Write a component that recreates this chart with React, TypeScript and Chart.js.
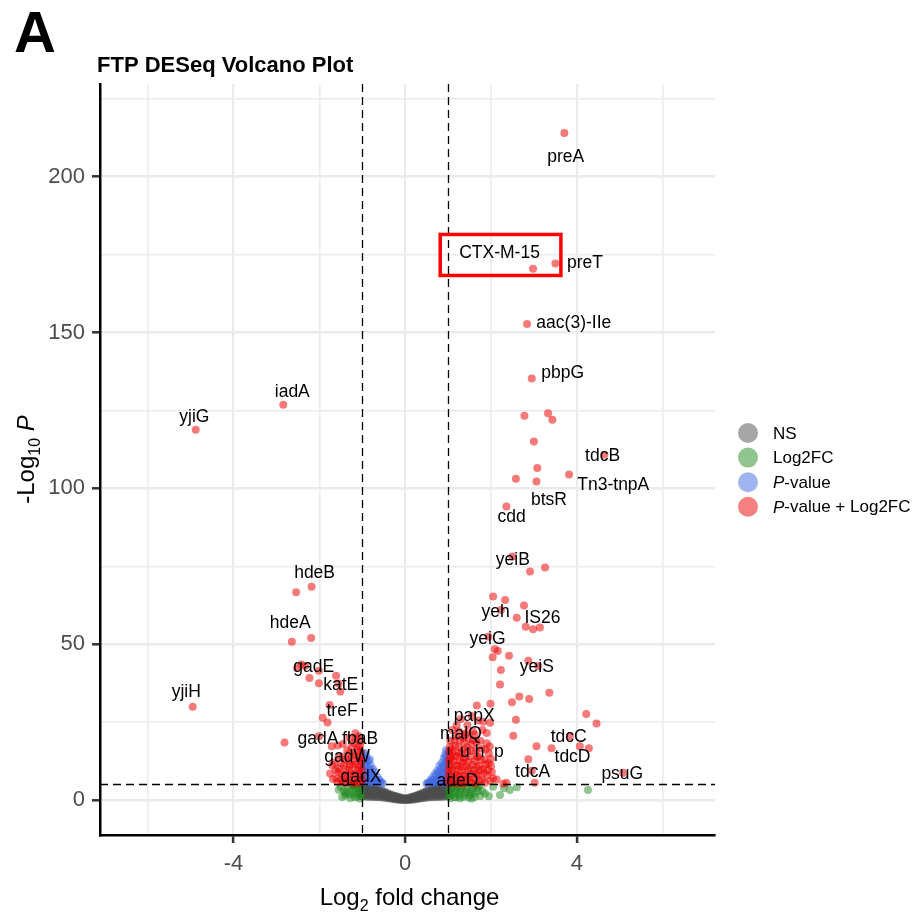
import React, { useEffect, useRef } from "react";
import { Chart, registerables } from "chart.js";

Chart.register(...registerables);

// ---------------- data ----------------
const xTickValues = [-6, -4, -2, 0, 2, 4, 6];
const xTickLabels = ["", "-4", "", "0", "", "4", ""];
const yTickValues = [0, 25, 50, 75, 100, 125, 150, 175, 200, 225];
const yTickLabels = ["0", "", "50", "", "100", "", "150", "", "200", ""];

const fcCutoffs = [-1, 1];
const pCutoff = 5;

// NS (grey)
const nsPoints: [number, number][] = [
  [-1.0, 1.2], [-1.0, 1.9], [-1.0, 2.5], [-1.0, 3.2], [-1.0, 3.8], [-1.0, 4.4], [-1.0, 4.9],
  [-0.95, 1.2], [-0.95, 1.8], [-0.95, 2.4], [-0.95, 3.0], [-0.95, 3.6], [-0.95, 4.2], [-0.95, 4.8],
  [-0.9, 1.1], [-0.9, 1.7], [-0.9, 2.4], [-0.9, 3.0], [-0.9, 3.6], [-0.9, 4.1], [-0.9, 4.7],
  [-0.85, 1.1], [-0.85, 1.7], [-0.85, 2.3], [-0.85, 2.9], [-0.85, 3.5], [-0.85, 4.0], [-0.85, 4.6],
  [-0.8, 1.1], [-0.8, 1.6], [-0.8, 2.2], [-0.8, 2.8], [-0.8, 3.4], [-0.8, 3.9], [-0.8, 4.5],
  [-0.75, 1.0], [-0.75, 1.5], [-0.75, 2.1], [-0.75, 2.6], [-0.75, 3.2], [-0.75, 3.7], [-0.75, 4.2],
  [-0.7, 1.0], [-0.7, 1.5], [-0.7, 2.0], [-0.7, 2.5], [-0.7, 3.0], [-0.7, 3.5], [-0.7, 4.0],
  [-0.65, 1.0], [-0.65, 1.6], [-0.65, 2.2], [-0.65, 2.9], [-0.65, 3.6],
  [-0.6, 0.9], [-0.6, 1.5], [-0.6, 2.1], [-0.6, 2.7], [-0.6, 3.3],
  [-0.55, 0.9], [-0.55, 1.4], [-0.55, 2.0], [-0.55, 2.5], [-0.55, 3.1],
  [-0.5, 0.8], [-0.5, 1.3], [-0.5, 1.8], [-0.5, 2.3], [-0.5, 2.8],
  [-0.45, 0.7], [-0.45, 1.2], [-0.45, 1.6], [-0.45, 2.1], [-0.45, 2.5],
  [-0.4, 0.6], [-0.4, 1.0], [-0.4, 1.3], [-0.4, 1.7], [-0.4, 2.1],
  [-0.35, 0.5], [-0.35, 0.9], [-0.35, 1.2], [-0.35, 1.6], [-0.35, 1.9],
  [-0.3, 0.4], [-0.3, 0.7], [-0.3, 1.0], [-0.3, 1.3], [-0.3, 1.6],
  [-0.25, 0.3], [-0.25, 0.6], [-0.25, 0.9], [-0.25, 1.2], [-0.25, 1.4],
  [-0.2, 0.2], [-0.2, 0.5], [-0.2, 0.8], [-0.2, 1.0], [-0.2, 1.2],
  [-0.15, 0.1], [-0.15, 0.35], [-0.15, 0.6], [-0.15, 0.8], [-0.15, 1.0],
  [-0.1, 0.0], [-0.1, 0.25], [-0.1, 0.5], [-0.1, 0.8],
  [-0.05, 0.0], [-0.05, 0.2], [-0.05, 0.4], [-0.05, 0.6],
  [0.0, 0.0], [0.0, 0.2], [0.0, 0.4], [0.0, 0.6],
  [0.05, 0.0], [0.05, 0.2], [0.05, 0.4], [0.05, 0.6],
  [0.1, 0.0], [0.1, 0.25], [0.1, 0.5], [0.1, 0.8],
  [0.15, 0.1], [0.15, 0.35], [0.15, 0.6], [0.15, 0.8], [0.15, 1.0],
  [0.2, 0.2], [0.2, 0.5], [0.2, 0.8], [0.2, 1.0], [0.2, 1.2],
  [0.25, 0.3], [0.25, 0.6], [0.25, 0.9], [0.25, 1.2], [0.25, 1.4],
  [0.3, 0.4], [0.3, 0.7], [0.3, 1.0], [0.3, 1.4], [0.3, 1.7],
  [0.35, 0.5], [0.35, 0.9], [0.35, 1.2], [0.35, 1.6], [0.35, 2.0],
  [0.4, 0.6], [0.4, 1.0], [0.4, 1.4], [0.4, 1.8], [0.4, 2.2],
  [0.45, 0.7], [0.45, 1.2], [0.45, 1.6], [0.45, 2.1], [0.45, 2.6],
  [0.5, 0.8], [0.5, 1.3], [0.5, 1.8], [0.5, 2.4], [0.5, 2.9],
  [0.55, 0.9], [0.55, 1.4], [0.55, 2.0], [0.55, 2.6], [0.55, 3.2],
  [0.6, 0.9], [0.6, 1.5], [0.6, 2.1], [0.6, 2.8], [0.6, 3.4],
  [0.65, 1.0], [0.65, 1.6], [0.65, 2.2], [0.65, 3.0], [0.65, 3.7],
  [0.7, 1.0], [0.7, 1.5], [0.7, 2.0], [0.7, 2.5], [0.7, 3.0], [0.7, 3.6], [0.7, 4.1],
  [0.75, 1.0], [0.75, 1.5], [0.75, 2.1], [0.75, 2.6], [0.75, 3.2], [0.75, 3.8], [0.75, 4.3],
  [0.8, 1.1], [0.8, 1.6], [0.8, 2.2], [0.8, 2.8], [0.8, 3.4], [0.8, 3.9], [0.8, 4.5],
  [0.85, 1.1], [0.85, 1.7], [0.85, 2.3], [0.85, 2.9], [0.85, 3.5], [0.85, 4.0], [0.85, 4.6],
  [0.9, 1.1], [0.9, 1.7], [0.9, 2.4], [0.9, 3.0], [0.9, 3.6], [0.9, 4.1], [0.9, 4.7],
  [0.95, 1.2], [0.95, 1.8], [0.95, 2.4], [0.95, 3.0], [0.95, 3.6], [0.95, 4.2], [0.95, 4.8],
  [1.0, 1.2], [1.0, 1.9], [1.0, 2.5], [1.0, 3.2], [1.0, 3.8], [1.0, 4.4], [1.0, 4.9],
];

// Log2FC only (green)
const log2fcPoints: [number, number][] = [
  [1.02, 1.2], [1.02, 3.0], [1.03, 4.6], [1.1, 2.0], [1.1, 4.0], [1.15, 1.0],
  [1.2, 3.0], [1.2, 4.7], [1.25, 1.5], [1.3, 3.5], [1.35, 1.0], [1.4, 2.5],
  [1.45, 4.2], [1.5, 1.5], [1.55, 3.2], [1.6, 2.2], [1.65, 4.6], [1.7, 3.8],
  [1.75, 1.3], [1.86, 2.1], [2.05, 4.3], [2.21, 1.6], [2.44, 3.2], [2.6, 4.1],
  [4.26, 3.2],
  [1.05, 0.5], [1.05, 2.2], [1.08, 3.6], [1.12, 4.6], [1.18, 0.8], [1.18, 2.4],
  [1.22, 3.8], [1.28, 0.6], [1.28, 2.8], [1.33, 4.4], [1.38, 1.8], [1.42, 3.4],
  [1.48, 0.8], [1.52, 2.4], [1.58, 4.2], [1.62, 1.0], [1.68, 2.8], [1.72, 4.5],
  [1.8, 3.0], [1.95, 1.2], [2.3, 3.8], [1.55, 0.5],
  [-1.02, 1.2], [-1.02, 3.0], [-1.03, 4.6], [-1.08, 2.0], [-1.1, 4.0],
  [-1.12, 1.1], [-1.16, 3.4], [-1.2, 2.0], [-1.25, 4.5], [-1.3, 1.8],
  [-1.36, 2.7], [-1.43, 3.0], [-1.5, 4.2], [-1.4, 1.5],
  [-1.05, 0.5], [-1.05, 2.2], [-1.08, 3.7], [-1.14, 4.7], [-1.18, 0.9],
  [-1.22, 3.0], [-1.28, 0.7], [-1.33, 4.0], [-1.38, 2.2], [-1.47, 1.0],
  [-1.55, 3.3], [-1.2, 4.6],
];

// P-value only (blue)
const pvalPoints: [number, number][] = [
  [-0.97, 5.5], [-0.97, 8.0], [-0.96, 11.0], [-0.93, 13.0], [-0.9, 14.0],
  [-0.9, 11.0], [-0.9, 8.5], [-0.9, 6.0], [-0.85, 12.5], [-0.85, 9.5],
  [-0.85, 6.5], [-0.8, 11.0], [-0.8, 8.0], [-0.8, 5.5], [-0.75, 10.0],
  [-0.75, 7.0], [-0.7, 9.0], [-0.7, 6.0], [-0.65, 7.5], [-0.65, 5.5],
  [-0.6, 6.5], [-0.55, 5.5], [-0.82, 13.0], [-0.95, 13.5],
  [-0.98, 7.0], [-0.98, 10.0], [-0.98, 13.0], [-0.93, 6.5], [-0.93, 9.0],
  [-0.93, 11.8], [-0.88, 5.8], [-0.88, 8.5], [-0.88, 12.5], [-0.83, 7.0],
  [-0.83, 10.0], [-0.78, 6.5], [-0.78, 9.0], [-0.73, 6.0], [-0.73, 8.0],
  [-0.68, 6.5], [-0.62, 5.8], [-0.58, 6.0], [-0.52, 5.4], [-0.92, 15.0],
  [-0.98, 15.0],
  [0.97, 5.5], [0.97, 8.5], [0.96, 11.5], [0.95, 14.0], [0.9, 13.5],
  [0.9, 10.5], [0.9, 7.5], [0.9, 5.5], [0.85, 12.0], [0.85, 9.0],
  [0.85, 6.0], [0.8, 11.0], [0.8, 8.0], [0.8, 5.5], [0.75, 9.5],
  [0.75, 6.5], [0.7, 8.5], [0.7, 5.8], [0.65, 7.5], [0.65, 5.5],
  [0.6, 6.5], [0.55, 5.5], [0.5, 5.2], [0.93, 14.5],
  [0.98, 7.0], [0.98, 10.0], [0.98, 13.0], [0.93, 6.5], [0.93, 9.0],
  [0.93, 12.0], [0.88, 5.8], [0.88, 8.5], [0.88, 11.0], [0.83, 7.0],
  [0.83, 10.0], [0.78, 6.5], [0.78, 9.0], [0.73, 6.0], [0.73, 8.0],
  [0.68, 6.5], [0.62, 5.8], [0.58, 6.0], [0.52, 5.5], [0.95, 16.0],
  [0.99, 15.5],
];

// P-value + Log2FC (red)
const bothPoints: [number, number][] = [
  [3.71, 214.0], [2.98, 170.4], [3.5, 172.1], [2.84, 152.7], [2.95, 135.2],
  [2.78, 123.3], [3.33, 124.1], [3.43, 122.0], [3.0, 115.0], [4.64, 110.8],
  [3.08, 106.5], [2.58, 103.1], [3.06, 102.2], [3.82, 104.4], [2.36, 94.2],
  [2.5, 78.1], [2.91, 73.3], [3.26, 74.6], [2.05, 65.3], [2.33, 64.2],
  [2.77, 62.4], [2.23, 61.0], [2.6, 58.5], [2.81, 55.6], [2.98, 54.8],
  [3.14, 55.4], [1.94, 52.4], [2.09, 48.4], [2.16, 47.8], [2.04, 45.8],
  [2.42, 46.3], [2.87, 44.7], [3.1, 43.0], [2.23, 41.7], [2.21, 37.1],
  [3.36, 34.4], [2.66, 33.2], [2.89, 32.4], [2.49, 31.4], [1.67, 30.3],
  [1.99, 30.9], [4.22, 27.6], [4.46, 24.6], [2.58, 25.8], [1.82, 25.1],
  [1.98, 24.8], [2.52, 20.6], [3.06, 17.3], [3.41, 16.6], [3.84, 20.5],
  [4.07, 17.3], [4.28, 16.6], [2.87, 13.1], [2.95, 9.4], [3.02, 5.6],
  [5.08, 8.8], [2.13, 6.6], [2.36, 5.6], [2.29, 5.2], [1.9, 18.2],
  [1.94, 11.8], [1.94, 9.6],
  [1.02, 5.5], [1.02, 8.0], [1.03, 11.0], [1.05, 14.0], [1.04, 17.0],
  [1.1, 6.5], [1.1, 9.5], [1.12, 12.5], [1.1, 15.5], [1.15, 19.0],
  [1.2, 5.5], [1.2, 8.0], [1.22, 11.0], [1.2, 14.0], [1.25, 17.0],
  [1.3, 6.5], [1.3, 9.5], [1.32, 12.0], [1.3, 15.0], [1.35, 20.0],
  [1.4, 5.5], [1.4, 8.0], [1.42, 11.0], [1.4, 13.5], [1.45, 17.0],
  [1.5, 6.5], [1.5, 10.0], [1.52, 14.0], [1.55, 18.0], [1.6, 7.0],
  [1.6, 9.5], [1.62, 12.5], [1.65, 16.0], [1.7, 8.0], [1.72, 11.0],
  [1.7, 14.0], [1.75, 19.0], [1.8, 6.5], [1.82, 10.0], [1.85, 13.0],
  [1.9, 8.0], [1.95, 15.0], [2.0, 11.0], [2.05, 7.0], [1.58, 22.0],
  [1.25, 22.0], [1.45, 24.0], [1.8, 22.5], [1.55, 27.0], [1.3, 26.0],
  [1.01, 6.5], [1.01, 9.5], [1.02, 12.5], [1.03, 15.5], [1.05, 19.0],
  [1.06, 7.2], [1.07, 10.2], [1.06, 13.2], [1.08, 16.4], [1.14, 5.4],
  [1.15, 8.3], [1.16, 11.2], [1.14, 14.3], [1.17, 17.4], [1.18, 20.5],
  [1.25, 5.6], [1.26, 7.5], [1.24, 9.8], [1.27, 12.6], [1.25, 15.2],
  [1.28, 19.3], [1.34, 5.3], [1.36, 7.8], [1.35, 10.6], [1.37, 13.4],
  [1.36, 16.2], [1.38, 18.4], [1.44, 6.8], [1.46, 9.4], [1.47, 12.2],
  [1.45, 15.4], [1.48, 19.6], [1.43, 21.5], [1.54, 5.6], [1.56, 8.2],
  [1.57, 11.4], [1.55, 15.8], [1.58, 19.2], [1.64, 5.4], [1.66, 8.4],
  [1.67, 10.5], [1.68, 13.8], [1.66, 18.5], [1.74, 6.2], [1.76, 9.6],
  [1.77, 12.8], [1.78, 16.5], [1.86, 5.6], [1.84, 8.8], [1.88, 11.4],
  [1.87, 16.2], [1.98, 6.2], [2.02, 9.0], [2.0, 13.2], [1.97, 17.2],
  [1.1, 22.5], [1.2, 24.0], [1.4, 21.0], [1.62, 21.0], [1.7, 25.5], [1.9, 21.5],
  [-4.88, 118.8], [-2.84, 126.8], [-2.54, 66.7], [-2.18, 68.4], [-2.64, 50.8],
  [-2.19, 52.0], [-2.52, 42.3], [-2.42, 43.5], [-2.33, 43.0], [-2.23, 39.2],
  [-2.01, 37.5], [-2.01, 41.5], [-1.61, 39.9], [-1.51, 34.8], [-1.55, 37.4],
  [-4.95, 29.9], [-1.76, 30.5], [-1.92, 26.4], [-1.81, 24.9], [-2.81, 18.5],
  [-2.01, 20.5], [-1.71, 17.3], [-1.57, 17.5], [-1.7, 11.2], [-1.55, 10.2],
  [-1.02, 5.5], [-1.02, 8.0], [-1.03, 11.0], [-1.05, 14.0], [-1.05, 17.5],
  [-1.1, 6.5], [-1.1, 9.5], [-1.12, 12.5], [-1.12, 16.0], [-1.15, 19.5],
  [-1.2, 5.5], [-1.2, 8.0], [-1.22, 11.0], [-1.25, 14.0], [-1.3, 6.5],
  [-1.3, 9.5], [-1.32, 12.5], [-1.4, 5.5], [-1.4, 8.0], [-1.42, 11.0],
  [-1.45, 14.0], [-1.5, 6.5], [-1.55, 9.0], [-1.6, 7.0], [-1.65, 12.0],
  [-1.75, 8.5], [-1.25, 17.0], [-1.35, 16.0], [-1.16, 21.4], [-1.08, 20.5],
  [-1.01, 6.5], [-1.01, 9.5], [-1.02, 12.5], [-1.03, 15.5], [-1.04, 19.0],
  [-1.07, 7.2], [-1.07, 10.3], [-1.08, 13.4], [-1.09, 17.0], [-1.15, 5.4],
  [-1.16, 8.5], [-1.17, 11.5], [-1.18, 14.5], [-1.2, 18.2], [-1.26, 5.6],
  [-1.27, 8.6], [-1.28, 11.4], [-1.3, 15.0], [-1.36, 7.0], [-1.37, 10.0],
  [-1.38, 13.0], [-1.45, 5.8], [-1.47, 8.4], [-1.5, 11.8], [-1.55, 13.8],
  [-1.62, 9.6], [-1.58, 5.7], [-1.68, 6.8], [-1.3, 20.0], [-1.45, 18.0],
];

const labelNames = [
  "preA", "CTX-M-15", "preT", "aac(3)-IIe", "pbpG", "tdcB", "Tn3-tnpA", "btsR",
  "cdd", "yeiB", "yeh", "IS26", "yeiG", "yeiS", "papX", "malQ", "u h  p",
  "adeD", "tdcA", "tdcC", "tdcD", "psuG", "yjiG", "iadA", "hdeB", "hdeA",
  "gadE", "katE", "yjiH", "treF", "gadA", "fbaB", "gadW", "gadX",
];
const labelX = [
  3.74, 2.2, 4.19, 3.93, 3.67, 4.6, 4.85, 3.35, 2.48, 2.51, 2.11, 3.2, 1.92,
  3.07, 1.61, 1.3, 1.79, 1.22, 2.97, 3.81, 3.9, 5.06, -4.91, -2.63, -2.11,
  -2.68, -2.13, -1.5, -5.1, -1.47, -2.03, -1.05, -1.35, -1.03,
];
const labelY = [
  206.4, 175.5, 172.5, 153.2, 137.0, 110.4, 101.3, 96.3, 91.0, 77.3, 60.5,
  58.6, 51.9, 42.8, 27.0, 21.4, 15.5, 6.4, 9.1, 20.5, 13.9, 8.5, 123.0, 131.1,
  73.0, 57.0, 43.0, 37.2, 34.8, 28.6, 19.8, 19.8, 13.9, 7.5,
];
const highlightedGene = "CTX-M-15";

const legendNames = ["NS", "Log2FC", "P-value", "P-value + Log2FC"];

// ---------------- styles ----------------
const FONT = "'Liberation Sans', Arial, Helvetica, sans-serif";
const seriesColors = [
  "rgba(77,77,77,0.5)",
  "rgba(34,139,34,0.5)",
  "rgba(65,105,225,0.5)",
  "rgba(238,0,0,0.52)",
];

const overlayPlugin = {
  id: "volcanoOverlay",
  afterDatasetsDraw(chart: any) {
    const { ctx, chartArea, scales } = chart;
    const xs = scales.x;
    const ys = scales.y;
    ctx.save();
    ctx.beginPath();
    ctx.rect(chartArea.left, chartArea.top, chartArea.right - chartArea.left, chartArea.bottom - chartArea.top);
    ctx.clip();
    ctx.setLineDash([8, 5]);
    ctx.lineWidth = 1.3;
    ctx.strokeStyle = "#000";
    for (const v of fcCutoffs) {
      const px = Math.round(xs.getPixelForValue(v)) + 0.5;
      ctx.beginPath();
      ctx.moveTo(px, chartArea.top);
      ctx.lineTo(px, chartArea.bottom);
      ctx.stroke();
    }
    const py = Math.round(ys.getPixelForValue(pCutoff)) + 0.5;
    ctx.beginPath();
    ctx.moveTo(chartArea.left, py);
    ctx.lineTo(chartArea.right, py);
    ctx.stroke();
    ctx.restore();

    // gene labels
    ctx.save();
    ctx.font = `17.5px ${FONT}`;
    ctx.fillStyle = "#000";
    ctx.textAlign = "center";
    ctx.textBaseline = "alphabetic";
    labelNames.forEach((name, i) => {
      const cx = xs.getPixelForValue(labelX[i]);
      const cy = ys.getPixelForValue(labelY[i]) + 5.5;
      ctx.fillText(name, cx, cy);
      if (name === highlightedGene) {
        const w = ctx.measureText(name).width;
        ctx.strokeStyle = "#ff0000";
        ctx.lineWidth = 3.5;
        ctx.strokeRect(cx - w / 2 - 19, cy - 24, w + 40, 41);
      }
    });
    ctx.restore();
  },
  afterDraw(chart: any) {
    const { ctx, chartArea } = chart;
    ctx.save();
    ctx.fillStyle = "#000";
    ctx.textAlign = "left";
    ctx.textBaseline = "alphabetic";
    // panel letter
    ctx.font = `bold 58px ${FONT}`;
    ctx.fillText("A", 14, 52);
    // title
    ctx.font = `bold 22px ${FONT}`;
    ctx.fillText("FTP DESeq Volcano Plot", 97, 72);

    // x-axis title
    const cxT = (chartArea.left + chartArea.right) / 2 + 2;
    const big = `24px ${FONT}`;
    const small = `16px ${FONT}`;
    ctx.font = big;
    const w1 = ctx.measureText("Log").width;
    const w3 = ctx.measureText(" fold change").width;
    ctx.font = small;
    const w2 = ctx.measureText("2").width;
    const x0 = cxT - (w1 + w2 + w3) / 2;
    const base = 905;
    ctx.font = big;
    ctx.fillText("Log", x0, base);
    ctx.font = small;
    ctx.fillText("2", x0 + w1, base + 6);
    ctx.font = big;
    ctx.fillText(" fold change", x0 + w1 + w2, base);

    // y-axis title
    ctx.save();
    const cyT = (chartArea.top + chartArea.bottom) / 2;
    ctx.translate(34, cyT);
    ctx.rotate(-Math.PI / 2);
    ctx.font = big;
    const a1 = ctx.measureText("-Log").width;
    ctx.font = small;
    const a2 = ctx.measureText("10").width;
    ctx.font = big;
    const a3 = ctx.measureText(" ").width;
    ctx.font = `italic 24px ${FONT}`;
    const a4 = ctx.measureText("P").width;
    const s = -(a1 + a2 + a3 + a4) / 2;
    ctx.font = big;
    ctx.fillText("-Log", s, 0);
    ctx.font = small;
    ctx.fillText("10", s + a1, 6);
    ctx.font = `italic 24px ${FONT}`;
    ctx.fillText("P", s + a1 + a2 + a3, 0);
    ctx.restore();

    // legend
    const legendColors = ["#a6a6a6", "#90c590", "#a0b4f0", "#f68080"];
    const ly0 = 433;
    const lstep = 24.6;
    legendNames.forEach((name, i) => {
      const yy = ly0 + i * lstep;
      ctx.beginPath();
      ctx.fillStyle = legendColors[i];
      ctx.arc(748, yy, 10, 0, Math.PI * 2);
      ctx.fill();
      ctx.fillStyle = "#000";
      ctx.textBaseline = "middle";
      let tx = 773;
      if (name.startsWith("P-")) {
        ctx.font = `italic 17px ${FONT}`;
        ctx.fillText("P", tx, yy + 1);
        tx += ctx.measureText("P").width;
        ctx.font = `17px ${FONT}`;
        ctx.fillText(name.slice(1), tx, yy + 1);
      } else {
        ctx.font = `17px ${FONT}`;
        ctx.fillText(name, tx, yy + 1);
      }
    });
    ctx.restore();
  },
};

function toXY(arr: [number, number][]) {
  return arr.map(([x, y]) => ({ x, y }));
}

export default function App() {
  const canvasRef = useRef<HTMLCanvasElement | null>(null);

  useEffect(() => {
    const canvas = canvasRef.current;
    if (!canvas) return;
    const seriesData = [nsPoints, log2fcPoints, pvalPoints, bothPoints];
    const chart = new Chart(canvas, {
      type: "scatter",
      data: {
        datasets: seriesData.map((pts, i) => ({
          label: legendNames[i],
          data: toXY(pts),
          backgroundColor: seriesColors[i],
          borderWidth: 0,
          pointRadius: 4,
          pointHoverRadius: 4,
          order: 4 - i,
        })),
      },
      options: {
        responsive: false,
        animation: false,
        devicePixelRatio: 1,
        layout: { padding: { left: 0, right: 204, top: 84, bottom: 0 } },
        plugins: { legend: { display: false }, tooltip: { enabled: false }, title: { display: false } },
        scales: {
          x: {
            type: "linear",
            min: -7.11,
            max: 7.22,
            afterBuildTicks: (s: any) => {
              s.ticks = xTickValues.map((v) => ({ value: v }));
            },
            afterFit: (s: any) => {
              s.height = 79;
            },
            ticks: {
              autoSkip: false,
              maxRotation: 0,
              padding: 8,
              color: "#4d4d4d",
              font: { family: FONT, size: 22 },
              callback: (v: any) => {
                const i = xTickValues.indexOf(Number(v));
                return i >= 0 ? xTickLabels[i] : "";
              },
            },
            grid: {
              color: "#ebebeb",
              lineWidth: (c: any) => (c.tick && xTickLabels[xTickValues.indexOf(c.tick.value)] ? 2.2 : 1.6),
              tickColor: (c: any) => (c.tick && xTickLabels[xTickValues.indexOf(c.tick.value)] ? "#333333" : "rgba(0,0,0,0)"),
              tickWidth: 2.5,
              tickLength: 8,
            },
            border: { display: true, color: "#000", width: 2.5 },
          },
          y: {
            type: "linear",
            min: -11.2,
            max: 229.7,
            afterBuildTicks: (s: any) => {
              s.ticks = yTickValues.map((v) => ({ value: v }));
            },
            afterFit: (s: any) => {
              s.width = 100;
            },
            ticks: {
              autoSkip: false,
              padding: 7,
              color: "#4d4d4d",
              font: { family: FONT, size: 22 },
              callback: (v: any) => {
                const i = yTickValues.indexOf(Number(v));
                return i >= 0 ? yTickLabels[i] : "";
              },
            },
            grid: {
              color: "#ebebeb",
              lineWidth: (c: any) => (c.tick && yTickLabels[yTickValues.indexOf(c.tick.value)] ? 2.6 : 1.4),
              tickColor: (c: any) => (c.tick && yTickLabels[yTickValues.indexOf(c.tick.value)] ? "#333333" : "rgba(0,0,0,0)"),
              tickWidth: 2.5,
              tickLength: 8,
            },
            border: { display: true, color: "#000", width: 2.5 },
          },
        },
      },
      plugins: [overlayPlugin],
    });
    return () => chart.destroy();
  }, []);

  return (
    <div style={{ position: "absolute", left: 0, top: 0, width: 919, height: 914, background: "#fff" }}>
      <canvas ref={canvasRef} width={919} height={914} />
    </div>
  );
}
